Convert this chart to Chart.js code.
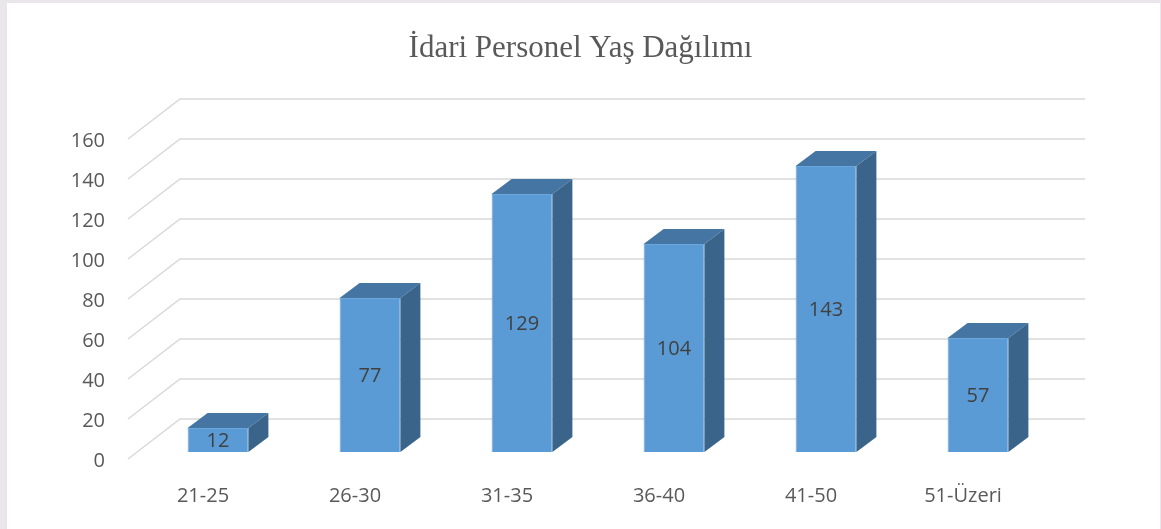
<!DOCTYPE html>
<html>
<head>
<meta charset="utf-8">
<script src="https://cdn.jsdelivr.net/npm/chart.js@4"></script>
<style>
  body { margin: 0; background: #ebe5ec; }
  canvas { display: block; }
</style>
</head>
<body>
<canvas id="ageChart" width="1161" height="529"></canvas>
<script>
const categories = ['21-25', '26-30', '31-35', '36-40', '41-50', '51-Üzeri'];
const staffCounts = [12, 77, 129, 104, 143, 57];
const yMin = 0;
const yMax = 160;
const yStep = 20;

const textGray = '#595959';

// draws the page panel, the 3D grid walls and the top/side faces of the bars
const bar3d = {
    id: 'bar3d',
    beforeDraw(chart) {
        const ctx = chart.ctx;
        ctx.save();
        ctx.fillStyle = '#ebe5ec';
        ctx.fillRect(0, 0, chart.width, chart.height);
        ctx.fillStyle = '#ffffff';
        ctx.fillRect(7, 3, chart.width - 8, chart.height - 3);
        ctx.restore();
    },
    beforeDatasetsDraw(chart) {
        const ctx = chart.ctx;
        const y = chart.scales.y;
        const { left, right } = chart.chartArea;
        ctx.save();
        ctx.strokeStyle = '#d9d9d9';
        ctx.lineWidth = 1.5;
        y.ticks.forEach(t => {
            const py = y.getPixelForValue(t.value);
            ctx.beginPath();
            ctx.moveTo(left - 14, py + 7);
            ctx.lineTo(left + 38, py - 33);
            ctx.lineTo(right + 31, py - 33);
            ctx.stroke();
        });
        ctx.restore();
    },
    afterDatasetsDraw(chart) {
        const ctx = chart.ctx;
        const meta = chart.getDatasetMeta(0);
        const dx = 20, dy = -15;
        ctx.save();
        meta.data.forEach((bar, i) => {
            const l = bar.x - bar.width / 2;
            const r = bar.x + bar.width / 2;
            const t = bar.y;
            const b = bar.base;
            // top face
            ctx.fillStyle = '#4475a3';
            ctx.beginPath();
            ctx.moveTo(l, t);
            ctx.lineTo(l + dx, t + dy);
            ctx.lineTo(r + dx, t + dy);
            ctx.lineTo(r, t);
            ctx.closePath();
            ctx.fill();
            // side face
            ctx.fillStyle = '#3a6489';
            ctx.beginPath();
            ctx.moveTo(r, t);
            ctx.lineTo(r + dx, t + dy);
            ctx.lineTo(r + dx, b + dy);
            ctx.lineTo(r, b);
            ctx.closePath();
            ctx.fill();
            // value label
            ctx.fillStyle = '#404040';
            ctx.font = '20px "Open Sans"';
            ctx.textAlign = 'center';
            ctx.textBaseline = 'middle';
            ctx.fillText(staffCounts[i], bar.x, (t + b) / 2 + 1);
        });
        ctx.restore();
    }
};

const ctx = document.getElementById('ageChart').getContext('2d');
const chart = new Chart(ctx, {
    type: 'bar',
    data: {
        labels: categories,
        datasets: [{
            data: staffCounts,
            backgroundColor: '#5b9bd5',
            borderColor: '#6aa7dd',
            borderWidth: 1,
            barPercentage: 0.4,
            categoryPercentage: 1
        }]
    },
    options: {
        responsive: false,
        devicePixelRatio: 1,
        animation: false,
        plugins: {
            legend: { display: false },
            tooltip: { enabled: false },
            title: {
                display: true,
                text: 'İdari Personel Yaş Dağılımı',
                color: textGray,
                font: { family: '"Liberation Serif", "Times New Roman", serif', size: 31, weight: 'normal' },
                padding: { top: 30.4, bottom: 64.4 }
            }
        },
        scales: {
            x: {
                grid: { display: false, drawTicks: false },
                border: { display: false },
                ticks: {
                    color: textGray,
                    font: { family: '"Open Sans"', size: 20 },
                    padding: 32,
                    labelOffset: -15
                },
                afterFit: s => { s.height = 77; }
            },
            y: {
                min: yMin,
                max: yMax,
                grid: { display: false, drawTicks: false },
                border: { display: false },
                ticks: {
                    stepSize: yStep,
                    color: textGray,
                    font: { family: '"Open Sans"', size: 20 },
                    padding: 37,
                    labelOffset: 9
                },
                afterFit: s => { s.width = 142; }
            },
            // empty right-hand axis that only reserves the space right of the plot
            yRight: {
                position: 'right',
                grid: { display: false, drawTicks: false },
                border: { display: false },
                ticks: { display: false },
                afterFit: s => { s.width = 107; }
            }
        }
    },
    plugins: [bar3d]
});
</script>
</body>
</html>
